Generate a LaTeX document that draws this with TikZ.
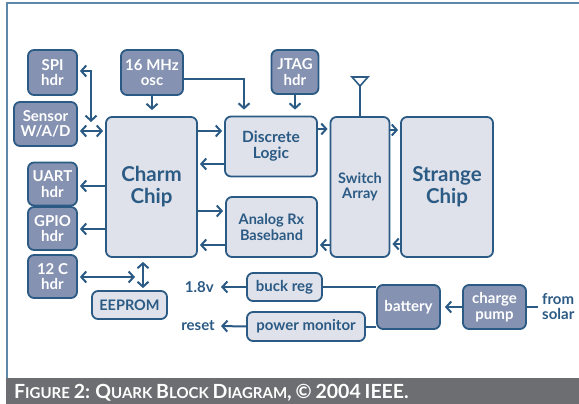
\documentclass[tikz,border=0pt]{standalone}
\usepackage{fontspec}
\setmainfont{Lato}
\usetikzlibrary{arrows.meta}
\definecolor{edge}{HTML}{2B5A84}
\definecolor{darkfill}{HTML}{8592B1}
\definecolor{lightfill}{HTML}{DFE2EA}
\definecolor{framecol}{HTML}{5E88AA}
\definecolor{capbar}{HTML}{6D6E71}
\newcommand\fsz[2]{\fontsize{#1}{#2}\selectfont}
\newcommand\capsc[2]{{\fontsize{19.5}{20}\selectfont #1}{\fontsize{15}{16}\selectfont #2}}
\tikzset{
  barb/.tip={Straight Barb[length=5pt,width=11pt]},
  blk/.style={draw=edge, line width=1.8pt, rounded corners=6pt, inner sep=0pt, align=center},
  darkblk/.style={blk, fill=darkfill, text=white, font=\bfseries\fsz{15}{15.5}},
  lightblk/.style={blk, fill=lightfill, text=edge, font=\bfseries\fsz{15}{16}},
  lbl/.style={text=edge, font=\bfseries\fsz{15}{15}, inner sep=0pt, align=left},
  wire/.style={draw=edge, line width=2pt},
  arr/.style={wire, -barb, shorten >=2pt},
  biarr/.style={wire, barb-barb, shorten >=2pt, shorten <=2pt},
}
\begin{document}
\begin{tikzpicture}[x=1pt, y=-1pt]
\useasboundingbox (0,0) rectangle (579,404);
% frame and caption bar
\draw[framecol, line width=1.5pt] (7,378) -- (7,3) -- (579,3);
\fill[capbar] (6,378) rectangle (579,404);
\node[anchor=base west, text=white, inner sep=0pt, font=\bfseries\fsz{16}{16}] (caption) at (14,398)
  {\capsc{F}{IGURE} \capsc{2:}{} \capsc{Q}{UARK} \capsc{B}{LOCK} \capsc{D}{IAGRAM}\capsc{,}{} \capsc{©}{} \capsc{2004}{} \capsc{IEEE.}{}};

% blocks
\node[darkblk, minimum width=49pt, minimum height=45pt] (spi) at (52.5,72.5) {SPI\\hdr};
\node[darkblk, minimum width=63pt, minimum height=44pt] (sensor) at (45.5,124) {Sensor\\W/A/D};
\node[darkblk, minimum width=62pt, minimum height=45pt] (osc) at (152,72.5) {16 MHz\\osc};
\node[darkblk, minimum width=47pt, minimum height=44pt] (jtag) at (295,72) {JTAG\\hdr};
\node[lightblk, minimum width=91pt, minimum height=140pt, font=\bfseries\fsz{20.5}{22}] (charm) at (151.5,187) {Charm\\Chip};
\node[lightblk, minimum width=92pt, minimum height=60pt, font=\bfseries\fsz{15.5}{16}] (discrete) at (271,146.5) {Discrete\\Logic};
\node[lightblk, minimum width=91pt, minimum height=60pt, font=\bfseries\fsz{14.5}{15.5}] (analog) at (271.5,227) {Analog Rx\\Baseband};
\node[lightblk, minimum width=59pt, minimum height=140pt, font=\bfseries\fsz{14.5}{15}] (switch) at (360,187) {Switch\\Array};
\node[lightblk, minimum width=92pt, minimum height=140pt, font=\bfseries\fsz{20.5}{22}] (strange) at (447,187) {Strange\\Chip};
\node[darkblk, minimum width=49pt, minimum height=43pt] (uart) at (52.5,184) {UART\\hdr};
\node[darkblk, minimum width=49pt, minimum height=43pt] (gpio) at (52.5,228.5) {GPIO\\hdr};
\node[darkblk, minimum width=49pt, minimum height=43pt] (i2c) at (52.5,276.5) {12 C\\hdr};
\node[lightblk, minimum width=75pt, minimum height=28pt, font=\bfseries\fsz{14.5}{15}] (eeprom) at (129.5,305) {EEPROM};
\node[lightblk, minimum width=75pt, minimum height=28pt] (buck) at (284.5,287) {buck reg};
\node[lightblk, minimum width=118pt, minimum height=29pt] (pmon) at (306,326.5) {power monitor};
\node[darkblk, minimum width=63pt, minimum height=44pt] (battery) at (408.5,307) {battery};
\node[darkblk, minimum width=63pt, minimum height=44pt] (pump) at (494.5,307) {charge\\pump};

% free ends and labels
\coordinate (spiend) at (91,122);
\coordinate (i2cend) at (135,277);
\coordinate (ant) at (360,86);
\coordinate (solar) at (538,307);
\node[lbl, anchor=east] (v18) at (214,287) {1.8v};
\node[lbl, anchor=east] (reset) at (215,326) {reset};
\node[lbl, anchor=west] (from) at (542,307) {from\\solar};

% antenna
\draw[wire, line width=1.6pt] (ant) -- (switch.north);
\draw[wire, line width=1.6pt, line join=miter] (352,77) -- (368,77) -- (ant) -- cycle;

% connectors
\draw[wire, barb-barb, shorten <=2pt] (spi.east |- 0,71) -| (spiend);
\draw[biarr] (sensor.east |- 0,131) -- (charm.west |- 0,131);
\draw[arr, shorten >=6pt] (osc.south) -- (osc.south |- charm.north);
\draw[arr, shorten >=6pt] (osc.east |- 0,79) -| (discrete.north -| 244,0);
\draw[arr, shorten >=6pt] (jtag.south) -- (jtag.south |- discrete.north);
\draw[arr] (charm.east |- 0,131) -- (discrete.west |- 0,131);
\draw[arr] (discrete.west |- 0,164) -- (charm.east |- 0,164);
\draw[arr] (discrete.east |- 0,129) -- (switch.west |- 0,129);
\draw[arr] (charm.east |- 0,211) -- (analog.west |- 0,211);
\draw[arr] (analog.west |- 0,245) -- (charm.east |- 0,245);
\draw[arr] (switch.west |- 0,245) -- (analog.east |- 0,245);
\draw[arr] (switch.east |- 0,130) -- (strange.west |- 0,130);
\draw[arr] (strange.west |- 0,244) -- (switch.east |- 0,244);
\draw[arr] (charm.west |- 0,186) -- (uart.east |- 0,186);
\draw[arr] (charm.west |- 0,229) -- (gpio.east |- 0,229);
\draw[wire, barb-barb, shorten <=2pt] (i2c.east |- 0,277) -- (i2cend);
\draw[biarr, shorten <=4pt] (charm.south -| 143,0) -- (eeprom.north -| 143,0);
\draw[arr] (buck.west) -- (v18.east -| 219,0);
\draw[arr] (pmon.west) -- (reset.east -| 219,0);
\draw[wire] (buck.east) -- (battery.west |- buck.east);
\draw[wire] (pmon.east) -- (battery.west |- pmon.east);
\draw[arr, shorten >=4pt] (pump.west) -- (battery.east);
\draw[wire] (pump.east) -- (solar);
\end{tikzpicture}
\end{document}
